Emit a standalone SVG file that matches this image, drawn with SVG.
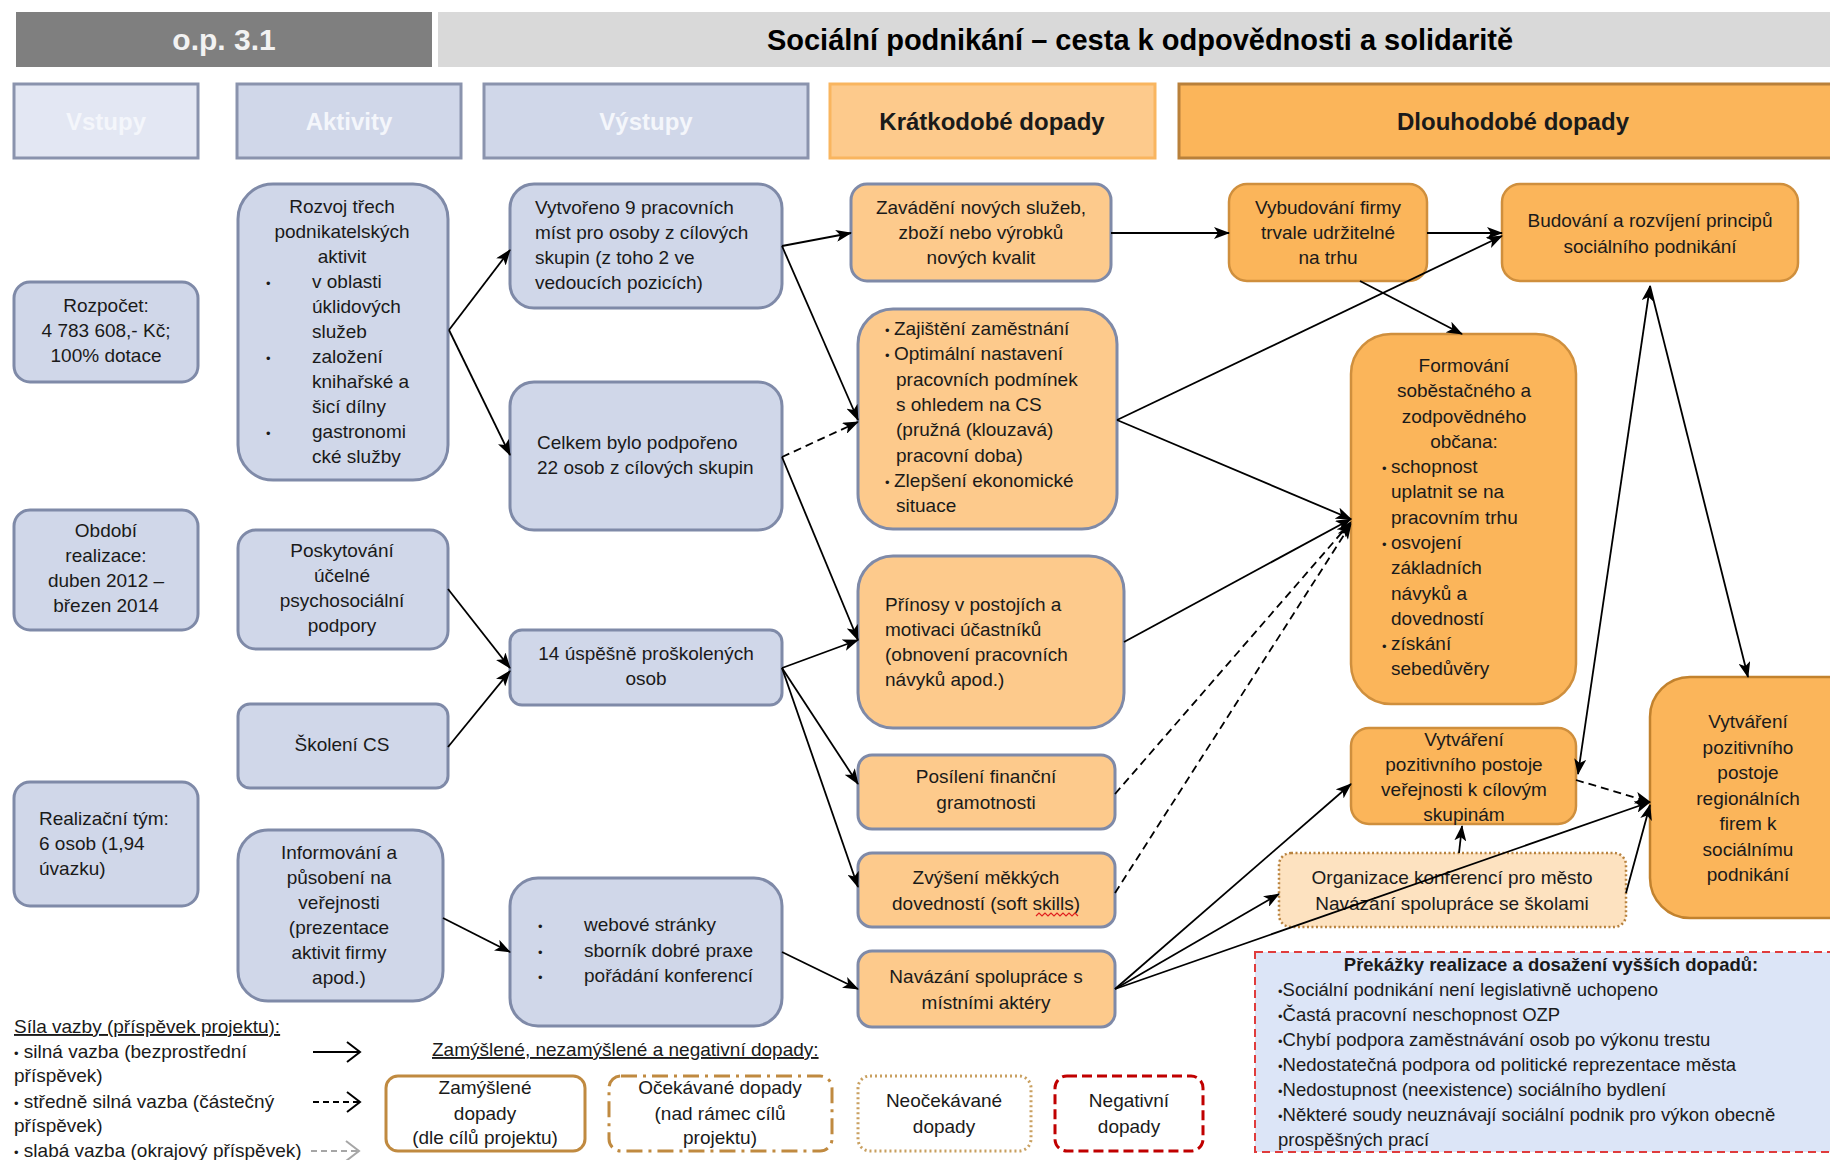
<svg xmlns="http://www.w3.org/2000/svg" width="1830" height="1160" viewBox="0 0 1830 1160">
<style>
text { font-family: 'Liberation Sans', Arial, sans-serif; font-size: 19px; fill: #1a1a1a; }
.c { text-anchor: middle; }
.hdr { font-weight: bold; font-size: 24px; }
.hw { fill: #f4f6fb; }
.blue { fill: #d0d7e9; stroke: #7f8aa8; stroke-width: 3; }
.lo { fill: #fdca8c; stroke: #7f8aa8; stroke-width: 3; }
.do { fill: #fbb55a; stroke: #cf8f3d; stroke-width: 2.5; }
.ln { stroke: #000; stroke-width: 1.8; fill: none; marker-end: url(#ah); }
.dash { stroke-dasharray: 8 5; }
.b { font-size: 13px; }
.u { text-decoration: underline; }
</style>
<defs>
<marker id="ah" viewBox="0 0 16 12" refX="15" refY="6" markerWidth="16" markerHeight="12" markerUnits="userSpaceOnUse" orient="auto-start-reverse">
<path d="M0,0 L16,6 L0,12 L4,6 z" fill="#000"/>
</marker>
</defs>
<rect width="1830" height="1160" fill="#fff"/>

<g id="header">
<rect x="16" y="12" width="416" height="55" fill="#7f7f7f"/>
<text x="224" y="50" class="c" style="font-weight:bold;font-size:30px;fill:#f2f2f2">o.p. 3.1</text>
<rect x="438" y="12" width="1392" height="55" fill="#d9d9d9"/>
<text x="1140" y="50" class="c" style="font-weight:bold;font-size:29px;fill:#000">Sociální podnikání – cesta k odpovědnosti a solidaritě</text>
</g>

<g id="col-headers">
<rect x="14" y="84" width="184" height="74" fill="#e3e7f3" stroke="#8a93ad" stroke-width="3"/>
<text x="106" y="130" class="c hdr hw">Vstupy</text>
<rect x="237" y="84" width="224" height="74" fill="#d0d7e9" stroke="#8a93ad" stroke-width="3"/>
<text x="349" y="130" class="c hdr hw">Aktivity</text>
<rect x="484" y="84" width="324" height="74" fill="#d0d7e9" stroke="#8a93ad" stroke-width="3"/>
<text x="646" y="130" class="c hdr hw">Výstupy</text>
<rect x="830" y="84" width="325" height="74" fill="#fdca8c" stroke="#f9b55f" stroke-width="3"/>
<text x="992" y="130" class="c hdr">Krátkodobé dopady</text>
<rect x="1179" y="84" width="660" height="74" fill="#fbb55a" stroke="#b9803a" stroke-width="3"/>
<text x="1513" y="130" class="c hdr">Dlouhodobé dopady</text>
</g>

<g id="n-rozpocet">
<rect x="14" y="282" width="184" height="100" rx="16" class="blue"/>
<text x="106" y="312" class="c">Rozpočet:<tspan x="106" dy="25">4 783 608,- Kč;</tspan><tspan x="106" dy="25">100% dotace</tspan></text>
</g>
<g id="n-obdobi">
<rect x="14" y="510" width="184" height="120" rx="16" class="blue"/>
<text x="106" y="537" class="c">Období<tspan x="106" dy="25">realizace:</tspan><tspan x="106" dy="25">duben 2012 –</tspan><tspan x="106" dy="25">březen 2014</tspan></text>
</g>
<g id="n-tym">
<rect x="14" y="782" width="184" height="124" rx="16" class="blue"/>
<text x="39" y="825">Realizační tým:<tspan x="39" dy="25">6 osob (1,94</tspan><tspan x="39" dy="25">úvazku)</tspan></text>
</g>

<g id="n-rozvoj">
<rect x="238" y="184" width="210" height="296" rx="35" class="blue"/>
<text x="342" y="213" class="c">Rozvoj třech<tspan x="342" dy="25">podnikatelských</tspan><tspan x="342" dy="25">aktivit</tspan></text>
<text x="266" y="288" class="b">•</text>
<text x="266" y="363" class="b">•</text>
<text x="266" y="438" class="b">•</text>
<text x="312" y="288">v oblasti<tspan x="312" dy="25">úklidových</tspan><tspan x="312" dy="25">služeb</tspan><tspan x="312" dy="25">založení</tspan><tspan x="312" dy="25">knihařské a</tspan><tspan x="312" dy="25">šicí dílny</tspan><tspan x="312" dy="25">gastronomi</tspan><tspan x="312" dy="25">cké služby</tspan></text>
</g>
<g id="n-poskytovani">
<rect x="238" y="530" width="210" height="119" rx="18" class="blue"/>
<text x="342" y="557" class="c">Poskytování<tspan x="342" dy="25">účelné</tspan><tspan x="342" dy="25">psychosociální</tspan><tspan x="342" dy="25">podpory</tspan></text>
</g>
<g id="n-skoleni">
<rect x="238" y="704" width="210" height="84" rx="12" class="blue"/>
<text x="342" y="751" class="c">Školení CS</text>
</g>
<g id="n-informovani">
<rect x="238" y="830" width="205" height="171" rx="30" class="blue"/>
<text x="339" y="859" class="c">Informování a<tspan x="339" dy="25">působení na</tspan><tspan x="339" dy="25">veřejnosti</tspan><tspan x="339" dy="25">(prezentace</tspan><tspan x="339" dy="25">aktivit firmy</tspan><tspan x="339" dy="25">apod.)</tspan></text>
</g>

<g id="n-vytvoreno">
<rect x="510" y="184" width="272" height="124" rx="24" class="blue"/>
<text x="535" y="214">Vytvořeno 9 pracovních<tspan x="535" dy="25">míst pro osoby z cílových</tspan><tspan x="535" dy="25">skupin (z toho 2 ve</tspan><tspan x="535" dy="25">vedoucích pozicích)</tspan></text>
</g>
<g id="n-celkem">
<rect x="510" y="382" width="272" height="148" rx="24" class="blue"/>
<text x="537" y="449">Celkem bylo podpořeno<tspan x="537" dy="25">22 osob z cílových skupin</tspan></text>
</g>
<g id="n-14">
<rect x="510" y="630" width="272" height="75" rx="12" class="blue"/>
<text x="646" y="660" class="c">14 úspěšně proškolených<tspan x="646" dy="25">osob</tspan></text>
</g>
<g id="n-webove">
<rect x="510" y="878" width="272" height="148" rx="28" class="blue"/>
<text x="538" y="931" class="b">•</text>
<text x="538" y="957" class="b">•</text>
<text x="538" y="982" class="b">•</text>
<text x="584" y="931">webové stránky<tspan x="584" dy="26">sborník dobré praxe</tspan><tspan x="584" dy="25">pořádání konferencí</tspan></text>
</g>

<g id="n-zavadeni">
<rect x="851" y="184" width="260" height="97" rx="16" class="lo"/>
<text x="981" y="214" class="c">Zavádění nových služeb,<tspan x="981" dy="25">zboží nebo výrobků</tspan><tspan x="981" dy="25">nových kvalit</tspan></text>
</g>
<g id="n-zajisteni">
<rect x="858" y="309" width="259" height="220" rx="35" class="lo"/>
<text x="885" y="335" class="b">•</text>
<text x="885" y="360" class="b">•</text>
<text x="885" y="487" class="b">•</text>
<text x="894" y="335">Zajištění zaměstnání<tspan x="894" dy="25.3">Optimální nastavení</tspan><tspan x="896" dy="25.3">pracovních podmínek</tspan><tspan x="896" dy="25.3">s ohledem na CS</tspan><tspan x="896" dy="25.3">(pružná (klouzavá)</tspan><tspan x="896" dy="25.3">pracovní doba)</tspan><tspan x="894" dy="25.3">Zlepšení ekonomické</tspan><tspan x="896" dy="25.3">situace</tspan></text>
</g>
<g id="n-prinosy">
<rect x="858" y="556" width="266" height="172" rx="35" class="lo"/>
<text x="885" y="611">Přínosy v postojích a<tspan x="885" dy="25">motivaci účastníků</tspan><tspan x="885" dy="25">(obnovení pracovních</tspan><tspan x="885" dy="25">návyků apod.)</tspan></text>
</g>
<g id="n-posileni">
<rect x="858" y="755" width="257" height="74" rx="14" class="lo"/>
<text x="986" y="783" class="c">Posílení finanční<tspan x="986" dy="26">gramotnosti</tspan></text>
</g>
<g id="n-zvyseni">
<rect x="858" y="853" width="257" height="74" rx="14" class="lo"/>
<text x="986" y="884" class="c">Zvýšení měkkých<tspan x="986" dy="26">dovedností (soft skills)</tspan></text>
<path d="M1036,916 l3,-3 l3,3 l3,-3 l3,3 l3,-3 l3,3 l3,-3 l3,3 l3,-3 l3,3 l3,-3 l3,3 l3,-3 l3,3" fill="none" stroke="#e02020" stroke-width="1.2"/>
</g>
<g id="n-navazani">
<rect x="858" y="951" width="257" height="76" rx="14" class="lo"/>
<text x="986" y="983" class="c">Navázání spolupráce s<tspan x="986" dy="26">místními aktéry</tspan></text>
</g>

<g id="n-vybudovani">
<rect x="1229" y="184" width="198" height="97" rx="18" class="do"/>
<text x="1328" y="214" class="c">Vybudování firmy<tspan x="1328" dy="25">trvale udržitelné</tspan><tspan x="1328" dy="25">na trhu</tspan></text>
</g>
<g id="n-budovani">
<rect x="1502" y="184" width="296" height="97" rx="18" class="do"/>
<text x="1650" y="227" class="c">Budování a rozvíjení principů<tspan x="1650" dy="26">sociálního podnikání</tspan></text>
</g>
<g id="n-formovani">
<rect x="1351" y="334" width="225" height="370" rx="40" class="do"/>
<text x="1464" y="372" class="c">Formování<tspan x="1464" dy="25.3">soběstačného a</tspan><tspan x="1464" dy="25.3">zodpovědného</tspan><tspan x="1464" dy="25.3">občana:</tspan></text>
<text x="1382" y="473" class="b">•</text>
<text x="1382" y="549" class="b">•</text>
<text x="1382" y="651" class="b">•</text>
<text x="1391" y="473">schopnost<tspan x="1391" dy="25.3">uplatnit se na</tspan><tspan x="1391" dy="25.3">pracovním trhu</tspan><tspan x="1391" dy="25.3">osvojení</tspan><tspan x="1391" dy="25.3">základních</tspan><tspan x="1391" dy="25.3">návyků a</tspan><tspan x="1391" dy="25.3">dovedností</tspan><tspan x="1391" dy="25.3">získání</tspan><tspan x="1391" dy="25.3">sebedůvěry</tspan></text>
</g>
<g id="n-verejnost">
<rect x="1351" y="728" width="225" height="96" rx="18" class="do"/>
<text x="1464" y="746" class="c">Vytváření<tspan x="1464" dy="25">pozitivního postoje</tspan><tspan x="1464" dy="25">veřejnosti k cílovým</tspan><tspan x="1464" dy="25">skupinám</tspan></text>
</g>
<g id="n-organizace">
<rect x="1279" y="853" width="347" height="74" rx="12" fill="#fde2c0" stroke="#b8823e" stroke-width="2.5" stroke-dasharray="2 2.5"/>
<text x="1452" y="884" class="c">Organizace konferencí pro město<tspan x="1452" dy="26">Navázání spolupráce se školami</tspan></text>
</g>
<g id="n-regionalni">
<rect x="1650" y="677" width="230" height="241" rx="40" class="do" style="stroke:#c2822e"/>
<text x="1748" y="728" class="c">Vytváření<tspan x="1748" dy="25.5">pozitivního</tspan><tspan x="1748" dy="25.5">postoje</tspan><tspan x="1748" dy="25.5">regionálních</tspan><tspan x="1748" dy="25.5">firem k</tspan><tspan x="1748" dy="25.5">sociálnímu</tspan><tspan x="1748" dy="25.5">podnikání</tspan></text>
</g>

<g id="n-prekazky">
<rect x="1255" y="952" width="590" height="200" fill="#dce5f7" stroke="#e03c3c" stroke-width="2" stroke-dasharray="8 5"/>
<text x="1551" y="971" class="c" style="font-weight:bold;font-size:18.5px">Překážky realizace a dosažení vyšších dopadů:</text>
<text x="1278" y="996" style="font-size:18.5px"><tspan class="b">•</tspan>Sociální podnikání není legislativně uchopeno<tspan x="1278" dy="25"><tspan class="b">•</tspan>Častá pracovní neschopnost OZP</tspan><tspan x="1278" dy="25"><tspan class="b">•</tspan>Chybí podpora zaměstnávání osob po výkonu trestu</tspan><tspan x="1278" dy="25"><tspan class="b">•</tspan>Nedostatečná podpora od politické reprezentace města</tspan><tspan x="1278" dy="25"><tspan class="b">•</tspan>Nedostupnost (neexistence) sociálního bydlení</tspan><tspan x="1278" dy="25"><tspan class="b">•</tspan>Některé soudy neuznávají sociální podnik pro výkon obecně</tspan><tspan x="1278" dy="25">prospěšných prací</tspan></text>
</g>

<g id="connectors">
<path class="ln" d="M449,330 L510,250"/>
<path class="ln" d="M449,330 L510,455"/>
<path class="ln" d="M448,589 L510,668"/>
<path class="ln" d="M448,747 L510,671"/>
<path class="ln" d="M443,918 L510,952"/>
<path class="ln" d="M782,246 L851,233"/>
<path class="ln" d="M782,246 L858,420"/>
<path class="ln dash" d="M782,457 L858,422"/>
<path class="ln" d="M782,457 L858,640"/>
<path class="ln" d="M782,668 L858,640"/>
<path class="ln" d="M782,668 L858,784"/>
<path class="ln" d="M782,668 L858,887"/>
<path class="ln" d="M782,952 L858,989"/>
<path class="ln" d="M1111,233 L1229,233"/>
<path class="ln" d="M1427,233 L1502,233"/>
<path class="ln" d="M1117,420 L1502,236"/>
<path class="ln" d="M1117,420 L1351,519"/>
<path class="ln" d="M1360,281 L1462,334"/>
<path class="ln" d="M1124,642 L1351,519"/>
<path class="ln dash" d="M1115,794 L1351,522"/>
<path class="ln dash" d="M1115,893 L1351,524"/>
<path class="ln" d="M1115,989 L1351,784"/>
<path class="ln" d="M1115,989 L1279,894"/>
<path class="ln" d="M1115,989 L1650,802"/>
<path class="ln" d="M1459,853 L1462,826"/>
<path class="ln dash" d="M1576,780 L1650,802"/>
<path class="ln" d="M1626,893 L1650,805"/>
<path class="ln" d="M1578,774 L1650,286" marker-start="url(#ah)"/>
<path class="ln" d="M1650,286 L1748,677"/>
</g>

<g id="legend">
<text x="14" y="1033" class="u">Síla vazby (příspěvek projektu):</text>
<text x="14" y="1058"><tspan class="b">•</tspan> silná vazba (bezprostřední<tspan x="14" dy="24">příspěvek)</tspan></text>
<text x="14" y="1108"><tspan class="b">•</tspan> středně silná vazba (částečný<tspan x="14" dy="24">příspěvek)</tspan></text>
<text x="14" y="1157"><tspan class="b">•</tspan> slabá vazba (okrajový příspěvek)</text>
<path d="M313,1052 L359,1052 M347,1042 L360,1052 L347,1062" fill="none" stroke="#000" stroke-width="2"/>
<path d="M313,1102 L359,1102" fill="none" stroke="#000" stroke-width="2" stroke-dasharray="6 4"/>
<path d="M347,1092 L360,1102 L347,1112" fill="none" stroke="#000" stroke-width="2"/>
<path d="M311,1151 L357,1151" fill="none" stroke="#a6a6a6" stroke-width="2" stroke-dasharray="6 4"/>
<path d="M346,1141 L359,1151 L346,1161" fill="none" stroke="#a6a6a6" stroke-width="2"/>
<text x="432" y="1056" class="u">Zamýšlené, nezamýšlené a negativní dopady:</text>
<rect x="386" y="1076" width="199" height="75" rx="12" fill="#fff" stroke="#c08a40" stroke-width="3"/>
<text x="485" y="1094" class="c">Zamýšlené<tspan x="485" dy="26">dopady</tspan><tspan x="485" dy="24">(dle cílů projektu)</tspan></text>
<rect x="609" y="1076" width="223" height="75" rx="12" fill="#fff" stroke="#c08a40" stroke-width="3" stroke-dasharray="16 6 3 6"/>
<text x="720" y="1094" class="c">Očekávané dopady<tspan x="720" dy="26">(nad rámec  cílů</tspan><tspan x="720" dy="24">projektu)</tspan></text>
<rect x="858" y="1076" width="173" height="75" rx="12" fill="#fff" stroke="#c9a060" stroke-width="3" stroke-dasharray="2 3"/>
<text x="944" y="1107" class="c">Neočekávané<tspan x="944" dy="26">dopady</tspan></text>
<rect x="1055" y="1076" width="148" height="75" rx="12" fill="#fff" stroke="#c00000" stroke-width="3" stroke-dasharray="10 5"/>
<text x="1129" y="1107" class="c">Negativní<tspan x="1129" dy="26">dopady</tspan></text>
</g>
</svg>
